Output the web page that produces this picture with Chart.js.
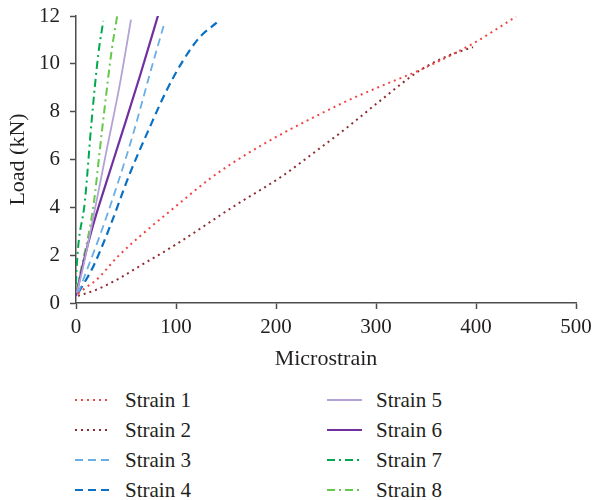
<!DOCTYPE html>
<html>
<head>
<meta charset="utf-8">
<script src="https://cdn.jsdelivr.net/npm/chart.js@4/dist/chart.umd.min.js"></script>
<style>
  html,body{margin:0;padding:0;background:#fff;}
  #wrap{position:relative;width:595px;height:500px;overflow:hidden;}
  #c{position:absolute;left:0;top:0;}
  .lg{position:absolute;font-family:"Liberation Serif","DejaVu Serif",serif;font-size:21px;color:#231f20;line-height:24px;white-space:nowrap;}
  .lg svg{position:absolute;left:0;top:0;}
  .lg span{position:absolute;top:0;}
</style>
</head>
<body>
<div id="wrap">
  <canvas id="c" width="595" height="380"></canvas>
  <div id="legend"></div>
</div>
<script>
// ---- data ----
const seriesNames = ["Strain 1","Strain 2","Strain 3","Strain 4","Strain 5","Strain 6","Strain 7","Strain 8"];
const xTicks = [0,100,200,300,400,500];
const yTicks = [0,2,4,6,8,10,12];

const s1x = [2, 10, 20, 42, 67, 100, 134, 162, 207, 237, 271, 304, 347, 397, 440];
const s1y = [0.4, 0.65, 0.95, 1.95, 2.9, 4.05, 5.2, 6.0, 7.1, 7.75, 8.45, 9.05, 9.8, 10.85, 11.97];

const s2x = [2, 20, 42, 60, 100, 160, 206, 240, 270, 304, 343, 370, 397];
const s2y = [0.3, 0.55, 1.0, 1.45, 2.45, 4.1, 5.3, 6.35, 7.3, 8.45, 9.7, 10.3, 10.7];

const s3x = [2, 12, 22.3, 40.7, 57.3, 74, 88.3];
const s3y = [0.4, 1.5, 2.64, 4.87, 7.09, 9.6, 11.69];

const s4x = [2.3, 17.3, 34, 54, 74, 90.7, 107.3, 124, 140.7];
const s4y = [0.42, 1.53, 3.2, 5.43, 7.37, 8.9, 10.15, 11.13, 11.72];

const s5x = [0.7, 7.3, 20.7, 30.7, 44, 55];
const s5y = [0.42, 1.53, 4.3, 6.4, 9.18, 11.85];

const s6x = [0, 8, 16, 30, 46, 64, 82.3];
const s6y = [0.3, 1.8, 3.1, 5.0, 7.1, 9.5, 12.06];

const s7x = [0, 0.7, 9, 15.7, 22.3, 27.3];
const s7y = [0.8, 1.53, 4.3, 7.65, 10.4, 11.8];

const s8x = [0, 5.7, 17.3, 25.7, 35.7, 41.3];
const s8y = [0.5, 1.53, 4.03, 7.1, 10.57, 12.03];

// ---- styles ----
const styles = [
  {color:'#f04545', width:2,   dash:[2,4]},
  {color:'#8e2c32', width:2,   dash:[2,4]},
  {color:'#6aaee6', width:1.8, dash:[8,5]},
  {color:'#0a70c4', width:2.2, dash:[8,5]},
  {color:'#b3a2d6', width:1.8, dash:[]},
  {color:'#7030a0', width:2.2, dash:[]},
  {color:'#00a94f', width:2,   dash:[8,4,2,4]},
  {color:'#66c84a', width:2,   dash:[8,4,2,4]}
];

const xs = [s1x,s2x,s3x,s4x,s5x,s6x,s7x,s8x];
const ys = [s1y,s2y,s3y,s4y,s5y,s6y,s7y,s8y];

const datasets = seriesNames.map((name,i)=>({
  label: name,
  data: xs[i].map((x,j)=>({x:x, y:ys[i][j]})),
  showLine: true,
  borderColor: styles[i].color,
  backgroundColor: styles[i].color,
  borderWidth: styles[i].width,
  borderDash: styles[i].dash,
  pointRadius: 0,
  pointHoverRadius: 0,
  cubicInterpolationMode: 'monotone',
  fill: false
}));

const FONT = '"Liberation Serif", "DejaVu Serif", serif';
const AXIS = '#4d4d4d';

new Chart(document.getElementById('c'), {
  type: 'scatter',
  data: { datasets },
  options: {
    responsive: false,
    animation: false,
    events: [],
    layout: { padding: { left: 0, right: 19, top: 16, bottom: 0 } },
    plugins: { legend: { display: false }, tooltip: { enabled: false } },
    scales: {
      x: {
        type: 'linear', min: 0, max: 500,
        afterBuildTicks: s => { s.ticks = xTicks.map(v=>({value:v})); },
        afterFit: s => { s.height = 77; s.paddingRight = 0; s.paddingLeft = 0; },
        grid: { drawOnChartArea: false, drawTicks: true, tickLength: 6, color: AXIS, tickWidth: 1.5 },
        border: { display: true, color: AXIS, width: 1.5 },
        ticks: { color: '#231f20', font: { family: FONT, size: 21 }, padding: 6, maxRotation: 0 },
        title: { display: true, text: 'Microstrain', color: '#231f20', font: { family: FONT, size: 22 }, padding: { top: 0, bottom: 8 } }
      },
      y: {
        type: 'linear', min: 0, max: 12,
        afterBuildTicks: s => { s.ticks = yTicks.map(v=>({value:v})); },
        afterFit: s => { s.width = 76; s.paddingTop = 0; s.paddingBottom = 0; },
        grid: { drawOnChartArea: false, drawTicks: true, tickLength: 6, color: AXIS, tickWidth: 1.5 },
        border: { display: true, color: AXIS, width: 1.5 },
        ticks: { color: '#231f20', font: { family: FONT, size: 21 }, padding: 10 },
        title: { display: true, text: 'Load (kN)', color: '#231f20', font: { family: FONT, size: 22 }, padding: { top: 5, bottom: 0 } }
      }
    }
  }
});

// ---- HTML legend (two columns) ----
const legend = document.getElementById('legend');
const colLeft = [75, 327];
const rowTop = [400, 430, 460, 490];
seriesNames.forEach((name,i)=>{
  const col = Math.floor(i/4), row = i%4;
  const st = styles[i];
  const d = document.createElement('div');
  d.className = 'lg';
  d.style.left = colLeft[col] + 'px';
  d.style.top = (rowTop[row] - 12) + 'px';
  d.style.width = '130px';
  d.style.height = '24px';
  const dash = st.dash.length ? st.dash.join(',') : 'none';
  d.innerHTML = '<svg width="36" height="24"><line x1="0" y1="12" x2="35" y2="12" stroke="'+st.color+'" stroke-width="'+st.width+'" stroke-dasharray="'+dash+'"/></svg><span style="left:'+(col?49:50)+'px"></span>';
  d.querySelector('span').textContent = name;
  legend.appendChild(d);
});
</script>
</body>
</html>
